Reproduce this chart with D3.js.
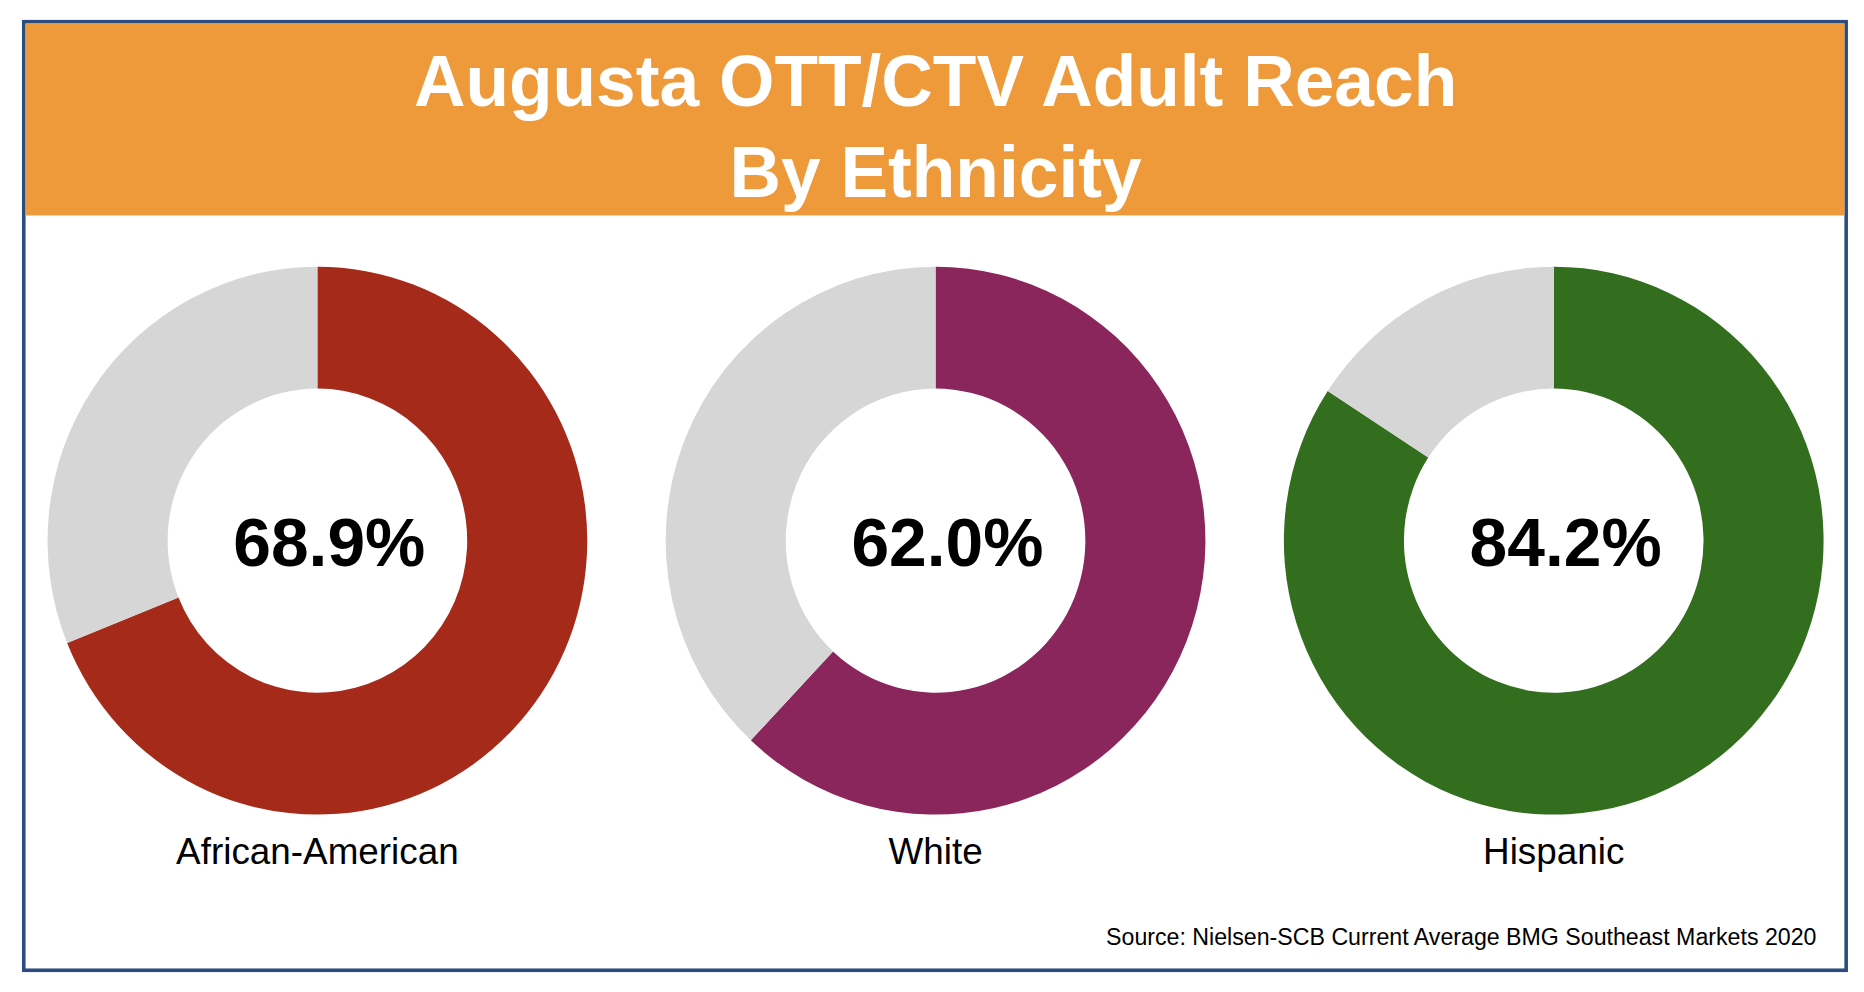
<!DOCTYPE html>
<html><head><meta charset="utf-8">
<script src="https://cdn.jsdelivr.net/npm/d3@7"></script>
<style>body{margin:0;background:#fff}svg{display:block}</style></head>
<body><svg id="c" width="1864" height="992" viewBox="0 0 1568 822" preserveAspectRatio="none"></svg>
<script>
const categories = ["African-American", "White", "Hispanic"];
const values = [68.9, 62.0, 84.2];
const colors = ["#A52A19", "#8B265D", "#336E1E"];
const titleLines = ["Augusta OTT/CTV Adult Reach", "By Ethnicity"];
const source = "Source: Nielsen-SCB  Current Average BMG Southeast Markets 2020";

const svg = d3.select("#c");
const F = "Liberation Sans, Arial, Helvetica, sans-serif";
svg.append("rect").attr("x",20).attr("y",18).attr("width",1533).attr("height",786)
  .attr("fill","#fff").attr("stroke","#2B4C7E").attr("stroke-width",3);
svg.append("rect").attr("x",21.5).attr("y",19.5).attr("width",1530).attr("height",159).attr("fill","#EF9A3A");
titleLines.forEach((t,i)=>svg.append("text").attr("x",787).attr("y",88+i*75)
  .attr("text-anchor","middle").attr("font-family",F).attr("font-weight","bold")
  .attr("font-size",60).attr("fill","#fff").text(t));

const x = d3.scalePoint().domain(categories).range([267,1307]);
const cy = 448, ro = 227, ri = 126;
const pie = d3.pie().sort(null).value(d=>d);
const arc = d3.arc().innerRadius(ri).outerRadius(ro);
categories.forEach((c,i)=>{
  const g = svg.append("g").attr("transform",`translate(${x(c)},${cy})`);
  g.selectAll("path").data(pie([values[i],100-values[i]])).join("path")
    .attr("d",arc).attr("fill",(d,j)=>j===0?colors[i]:"#D6D6D6");
  g.append("text").attr("x",10).attr("y",21).attr("text-anchor","middle")
    .attr("font-family",F).attr("font-weight","bold").attr("font-size",57).attr("fill","#000")
    .text(values[i].toFixed(1)+"%");
  svg.append("text").attr("x",x(c)).attr("y",716).attr("text-anchor","middle")
    .attr("font-family",F).attr("font-size",31).attr("fill","#000").text(c);
});
svg.append("text").attr("x",1528).attr("y",783).attr("text-anchor","end")
  .attr("font-family",F).attr("font-size",19.5).attr("fill","#000").text(source);
</script></body></html>
